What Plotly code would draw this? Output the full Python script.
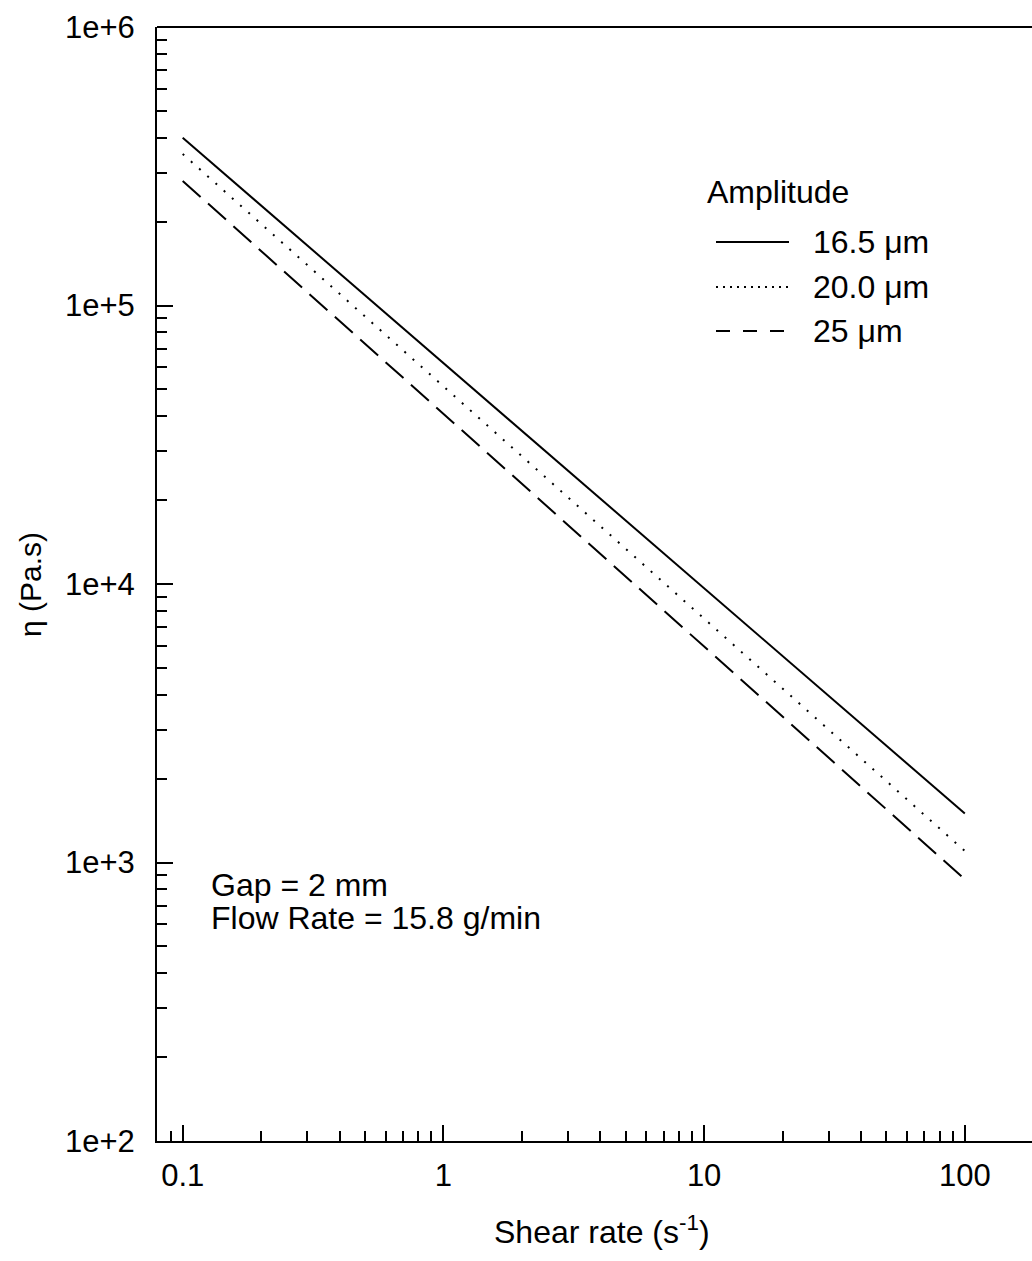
import numpy as np
import plotly.graph_objects as go

# Shear rate (1/s) and viscosity (Pa.s) at the ends of each power-law fit
shear_rate = [0.1, 100]
eta_165 = [4.0e5, 1.5e3]
eta_200 = [3.5e5, 1.1e3]
eta_250 = [2.8e5, 8.7e2]

series_names = ["16.5 \u03bcm", "20.0 \u03bcm", "25 \u03bcm"]
series_values = [eta_165, eta_200, eta_250]
series_dash = ["solid", "2px,9px", "24px,10px"]
legend_dash = ["solid", "2px,5px", "14px,13px"]

x_tickvals = [0.1, 1, 10, 100]
x_ticktext = ["0.1", "1", "10", "100"]
y_tickvals = [1e2, 1e3, 1e4, 1e5, 1e6]
y_ticktext = ["1e+2", "1e+3", "1e+4", "1e+5", "1e+6"]

FONT = "Liberation Sans, Arial, sans-serif"
TICK_FS = 31
TEXT_FS = 32

fig = go.Figure()
for name, vals, dash in zip(series_names, series_values, series_dash):
    fig.add_trace(go.Scatter(
        x=shear_rate, y=vals, mode="lines", name=name, showlegend=False,
        line=dict(color="black", width=2, dash=dash),
    ))

x_minor = [m * 10.0 ** e for e in range(-2, 3) for m in range(2, 10)]
y_minor = [m * 10.0 ** e for e in range(2, 6) for m in range(2, 10)]

fig.update_xaxes(
    type="log", range=[np.log10(0.0797), np.log10(181)],
    tickvals=x_tickvals, ticktext=x_ticktext,
    ticks="inside", ticklen=16, tickwidth=2, tickcolor="black",
    minor=dict(tickvals=x_minor, ticks="inside", ticklen=10, tickwidth=2, tickcolor="black"),
    showline=True, linecolor="black", linewidth=2, mirror=False,
    showgrid=False, zeroline=False,
    tickfont=dict(family=FONT, size=TICK_FS, color="black"),
    ticklabelstandoff=6,
)
fig.update_yaxes(
    type="log", range=[2, 6],
    tickvals=y_tickvals, ticktext=y_ticktext,
    ticks="inside", ticklen=16, tickwidth=2, tickcolor="black",
    minor=dict(tickvals=y_minor, ticks="inside", ticklen=10, tickwidth=2, tickcolor="black"),
    showline=True, linecolor="black", linewidth=2, mirror=False,
    showgrid=False, zeroline=False,
    tickfont=dict(family=FONT, size=TICK_FS, color="black"),
    ticklabelstandoff=14,
)

# top frame line
fig.add_shape(type="line", xref="paper", yref="paper", x0=0, x1=1, y0=1, y1=1,
              line=dict(color="black", width=2))

W, H = 1032, 1261
L, R, T, B = 157, 0, 27, 120
pw, ph = W - L - R, H - T - B


def px(xp):
    return (xp - L) / pw


def py(yp):
    return (H - B - yp) / ph


ann = []
ann.append(dict(text="Shear rate (s<sup>-1</sup>)", x=px(602), y=py(1230),
                xanchor="center", yanchor="middle"))
ann.append(dict(text="\u03b7 (Pa.s)", x=px(30), y=py(585), textangle=-90,
                xanchor="center", yanchor="middle", size=30))
ann.append(dict(text="Amplitude", x=px(705), y=py(192), xanchor="left", yanchor="middle"))
legend_y = [242, 287, 331]
for name, dash, yy in zip(series_names, legend_dash, legend_y):
    fig.add_shape(type="line", xref="paper", yref="paper",
                  x0=px(716), x1=px(789), y0=py(yy), y1=py(yy),
                  line=dict(color="black", width=2, dash=dash))
    ann.append(dict(text=name, x=px(811), y=py(yy), xanchor="left", yanchor="middle"))
ann.append(dict(text="Gap = 2 mm", x=px(209), y=py(885), xanchor="left", yanchor="middle"))
ann.append(dict(text="Flow Rate = 15.8 g/min", x=px(209), y=py(918), xanchor="left", yanchor="middle"))

for a in ann:
    size = a.pop("size", TEXT_FS)
    a.update(xref="paper", yref="paper", showarrow=False,
             font=dict(family=FONT, size=size, color="black"))
fig.update_layout(annotations=ann)

fig.update_layout(
    width=W, height=H,
    margin=dict(l=L, r=R, t=T, b=B, autoexpand=False),
    paper_bgcolor="white", plot_bgcolor="white",
    showlegend=False,
)

fig.write_html("out.html")
